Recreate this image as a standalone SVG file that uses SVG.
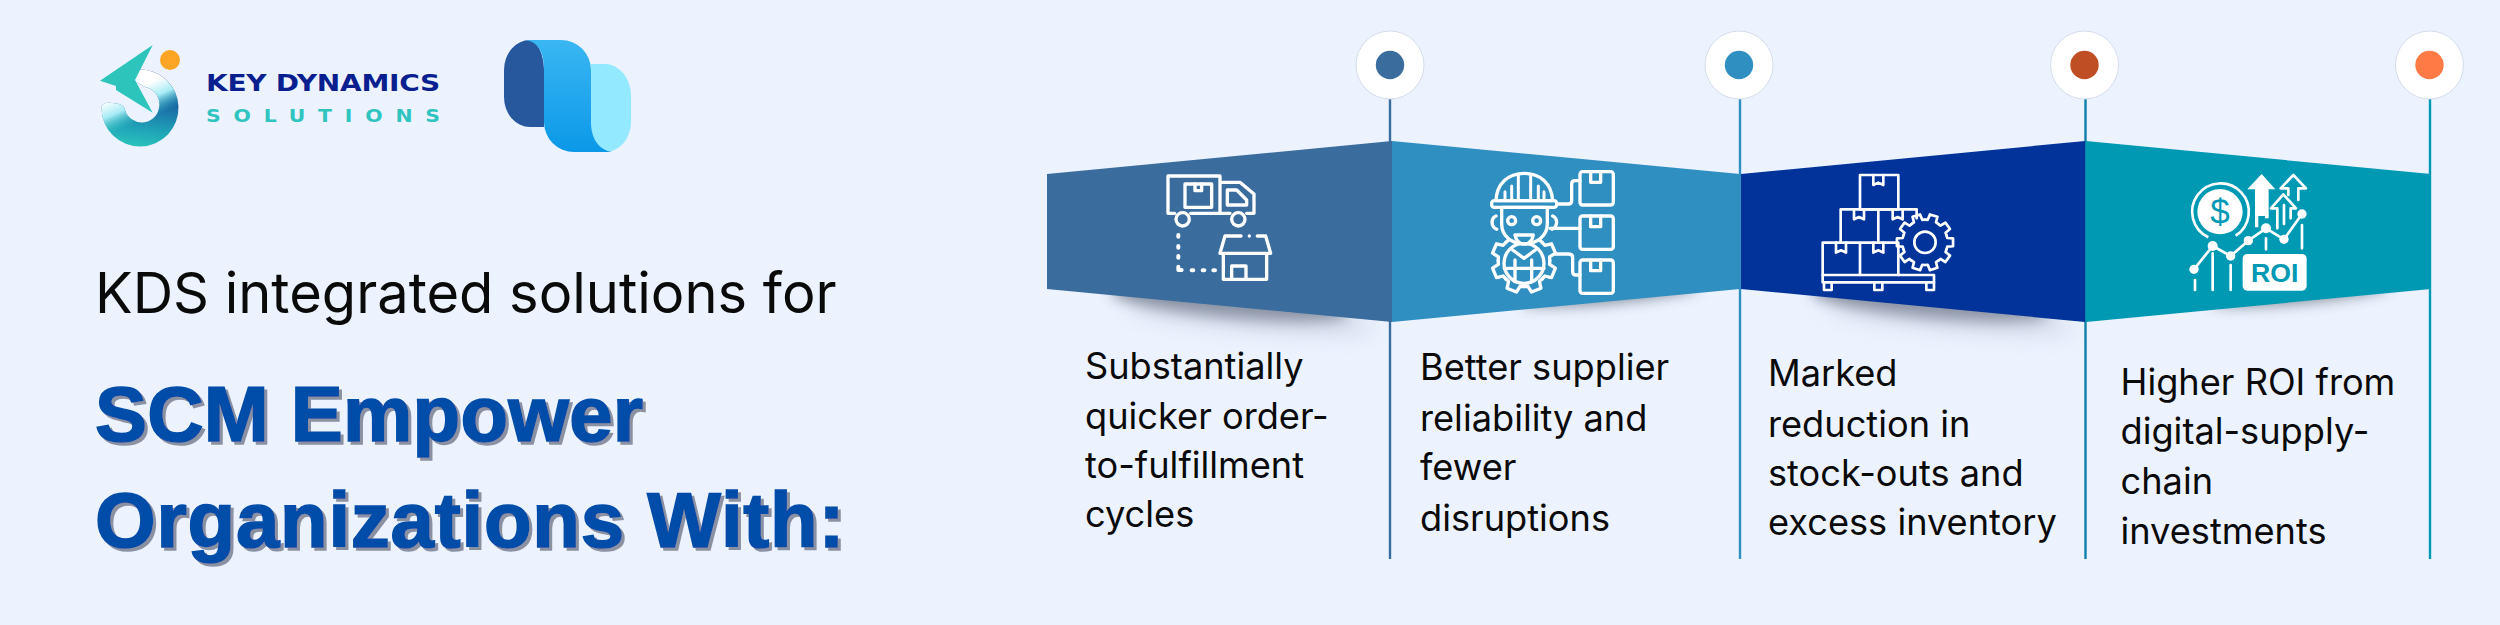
<svg xmlns="http://www.w3.org/2000/svg" xmlns:xlink="http://www.w3.org/1999/xlink" width="2500" height="625" viewBox="0 0 2500 625">
<style>
.body{font-family:"Inter","Liberation Sans",sans-serif;font-size:36.2px;fill:#0a0a0a}
.ring{fill:#fff;stroke:#d5dcec;stroke-width:1}
.ln{stroke-width:2.4;fill:none}
.ic{fill:none;stroke:#fff;stroke-linecap:round;stroke-linejoin:round}
.title{font-family:"Liberation Sans",Arial,sans-serif;font-weight:700;font-size:78px;fill:#034da9;stroke:#034da9;stroke-width:1.6;filter:url(#ts)}
</style>
<defs>
<filter id="ts" x="-5%" y="-20%" width="110%" height="140%"><feDropShadow dx="3" dy="3" stdDeviation="0.4" flood-color="#8a91a3"/></filter>
<filter id="b1" x="-30%" y="-150%" width="160%" height="400%"><feGaussianBlur stdDeviation="7"/></filter>
<filter id="b2" x="-30%" y="-150%" width="160%" height="400%"><feGaussianBlur stdDeviation="11"/></filter>
<linearGradient id="rg" gradientUnits="userSpaceOnUse" x1="135" y1="70" x2="125" y2="147"><stop offset="0" stop-color="#0a2296"/><stop offset=".45" stop-color="#1a72a8"/><stop offset=".75" stop-color="#1fa4b8"/><stop offset="1" stop-color="#2cc6bc"/></linearGradient>
<linearGradient id="wg" gradientUnits="userSpaceOnUse" x1="105" y1="102" x2="118" y2="132"><stop offset="0" stop-color="#fff"/><stop offset=".45" stop-color="#a8ecf6"/><stop offset="1" stop-color="#2cc6bc" stop-opacity="0"/></linearGradient>
<linearGradient id="mg" x1="0" y1="0" x2="0" y2="1"><stop offset="0" stop-color="#3ab7f3"/><stop offset="1" stop-color="#0b98e8"/></linearGradient>
<path id="t8" d="M-26,-62.8 L-16.5,-66 L-13.3,-84 L13.3,-84 L16.5,-66 L26,-62.8"/>
<path id="t10" d="M-21,-64.7 L-13,-66.8 L-11.8,-84.2 L11.8,-84.2 L13,-66.8 L21,-64.7"/>
</defs>
<rect width="2500" height="625" fill="#ecf3ff"/>

<g id="logo-kds">
<path d="M133,80 L138,69.5 A38.5,38.5 0 1 1 101.5,108 C101,104 106,102 112,103 C120,103 125,106 125,110 A17.5,17.5 0 0 0 159,108 A17.5,17.5 0 0 0 145,87 Z" fill="url(#rg)"/>
<path d="M133,80 L138,69.5 A38.5,38.5 0 1 1 101.5,108 C101,104 106,102 112,103 C120,103 125,106 125,110 A17.5,17.5 0 0 0 159,108 A17.5,17.5 0 0 0 145,87 Z" fill="url(#wg)"/>
<polygon points="152.7,45 100,80.7 116,86 116,90 152.7,112.7 135,80" fill="#2dc4bc"/>
<circle cx="170" cy="60" r="10" fill="#ffa526"/>
<text transform="translate(206,90.5) scale(1.22,1)" font-family="'DejaVu Sans',sans-serif" font-weight="700" font-size="23" fill="#0a1f8f" textLength="192" lengthAdjust="spacing">KEY DYNAMICS</text>
<text transform="translate(206,121.5) scale(1.2,1)" font-family="'DejaVu Sans',sans-serif" font-weight="700" font-size="17" fill="#2fc4bf" textLength="195" lengthAdjust="spacing">SOLUTIONS</text>
</g>

<g id="logo-mark">
<path d="M591,64 H605 A26,32 0 0 1 631,96 V122 A26,30 0 0 1 605,152 H590 L591,64 Z" fill="#93e9ff"/>
<path d="M504,70 A26,30 0 0 1 530,40 C540,42 544,60 544,70 L544,127 H530 A26,30 0 0 1 504,97 Z" fill="#27589e"/>
<path d="M526,40 H561 A30,30 0 0 1 591,70 V122 C591,140 600,150 612,152 H574 A30,30 0 0 1 544,122 V70 C544,52 538,42 526,40 Z" fill="url(#mg)"/>
</g>

<g id="headline">
<text x="95" y="313" font-family="Inter,'Liberation Sans',sans-serif" font-size="56" fill="#0a0a0a">KDS integrated solutions for</text>
<text class="title" x="95" y="441" letter-spacing=".2">SCM Empower</text>
<text class="title" x="95" y="547" letter-spacing=".75">Organizations With:</text>
</g>

<g id="connectors">
<line class="ln" x1="1390" y1="99" x2="1390" y2="559" stroke="#3a6d9e"/>
<line class="ln" x1="1740" y1="99" x2="1740" y2="559" stroke="#308fc1"/>
<line class="ln" x1="2085.5" y1="99" x2="2085.5" y2="559" stroke="#0f7fa9"/>
<line class="ln" x1="2430" y1="99" x2="2430" y2="559" stroke="#0099b4"/>
</g>

<g id="shadows">
<ellipse cx="1230" cy="303" rx="120" ry="14" transform="rotate(5.4 1230 303)" fill="#3d4556" opacity=".62" filter="url(#b1)"/>
<ellipse cx="1250" cy="316" rx="125" ry="12" transform="rotate(5.4 1250 316)" fill="#a4afc4" opacity=".45" filter="url(#b2)"/>
<ellipse cx="1610" cy="294" rx="90" ry="9" transform="rotate(-5.4 1610 294)" fill="#3d4556" opacity=".6" filter="url(#b1)"/>
<ellipse cx="1930" cy="303" rx="120" ry="14" transform="rotate(5.4 1930 303)" fill="#3d4556" opacity=".62" filter="url(#b1)"/>
<ellipse cx="1950" cy="316" rx="125" ry="12" transform="rotate(5.4 1950 316)" fill="#a4afc4" opacity=".45" filter="url(#b2)"/>
<ellipse cx="2300" cy="294" rx="90" ry="9" transform="rotate(-5.4 2300 294)" fill="#3d4556" opacity=".6" filter="url(#b1)"/>
</g>

<g id="step-1">
<polygon points="1047,174 1392,141 1392,322 1047,289" fill="#3a6d9e"/>
<circle class="ring" cx="1390" cy="65" r="34"/>
<circle cx="1390" cy="65" r="14.2" fill="#3a6d9e"/>
<g class="ic" transform="translate(1140,150) scale(.3333)" stroke-width="10">
<path d="M104,190H84V78H240V190M152,190H270M240,97H300L342,132V190H320"/>
<circle cx="128" cy="208" r="20"/><circle cx="295" cy="208" r="20"/>
<rect x="135" y="102" width="80" height="70"/><path d="M165,102V122H185V102"/>
<path d="M262,120H290L320,150V165H262Z"/>
<path d="M115,255V260M115,288V293M115,318V323M115,350V360H125M155,361H160M188,361H193M220,361H225" stroke-width="12"/>
<path d="M250,312V388H380V312M275,388V348H318V388M303,258H255L240,310H392L377,258H352M328,258V258"/>
</g>
<text class="body" x="1085" y="379">Substantially</text>
<text class="body" x="1085" y="428.5">quicker order-</text>
<text class="body" x="1085" y="478">to-fulfillment</text>
<text class="body" x="1085" y="527">cycles</text>
</g>

<g id="step-2">
<polygon points="1392,141 1740,174 1740,289 1392,322" fill="#308fc1"/>
<circle class="ring" cx="1739" cy="65" r="34"/>
<circle cx="1739" cy="65" r="14.2" fill="#308fc1"/>
<g class="ic" transform="translate(1470,150) scale(.3333)" stroke-width="10">
<g transform="translate(162,332) scale(1.14)" stroke-width="8.8">
<use xlink:href="#t8" transform="rotate(22.5)"/><use xlink:href="#t8" transform="rotate(67.5)"/><use xlink:href="#t8" transform="rotate(112.5)"/><use xlink:href="#t8" transform="rotate(157.5)"/><use xlink:href="#t8" transform="rotate(202.5)"/><use xlink:href="#t8" transform="rotate(247.5)"/><use xlink:href="#t8" transform="rotate(292.5)"/><use xlink:href="#t8" transform="rotate(337.5)"/>
</g>
<circle cx="162" cy="340" r="60"/>
<path d="M135,330V395M185,330V395M103,355H222M128,300L162,325L196,300"/>
<path d="M78,198C62,205 62,230 80,238M248,198C264,205 264,230 246,238"/>
<path d="M95,172V222C95,258 125,282 163,282C200,282 232,258 232,222V172Z" fill="#308fc1"/>
<path d="M78,152C80,100 115,70 163,70C210,70 245,100 248,152Z" fill="#308fc1"/>
<rect x="65" y="152" width="195" height="20" rx="8"/>
<path d="M145,75V150M182,75V150M125,108V150M205,108V150M105,125V150M222,125V150" stroke-width="9"/>
<circle cx="125" cy="212" r="12"/><circle cx="200" cy="212" r="12"/>
<path d="M135,255H190Q185,282 163,282Q140,282 135,255Z"/>
<path d="M262,162H295Q305,162 305,152V102Q305,92 315,92H330M240,235H330M255,312H295Q308,312 308,322V365Q308,375 318,375H330"/>
<rect x="330" y="65" width="100" height="100" rx="8"/><rect x="330" y="198" width="100" height="100" rx="8"/><rect x="330" y="330" width="100" height="100" rx="8"/>
<path d="M362,65V97H392V65M362,198V230H392V198M362,330V362H392V330"/>
</g>
<text class="body" x="1420" y="380">Better supplier</text>
<text class="body" x="1420" y="430.5">reliability and</text>
<text class="body" x="1420" y="479.5">fewer</text>
<text class="body" x="1420" y="530.5">disruptions</text>
</g>

<g id="step-3">
<polygon points="1741,174 2085,141 2085,322 1741,289" fill="#01339a"/>
<circle class="ring" cx="2084.5" cy="65" r="34"/>
<circle cx="2084.5" cy="65" r="14.2" fill="#c04e24"/>
<g class="ic" transform="translate(1810,150) scale(.3333)" stroke-width="8">
<rect x="150" y="75" width="115" height="103"/>
<path d="M92,275V178H320V205M205,178V275M38,375V278H265M150,278V375M265,278V375"/>
<path d="M190,75V105L205,98L220,105V75M132,178V208L147,201L162,208V178M248,178V208L263,201L278,208V178M78,278V308L93,301L108,308V278M190,278V308L205,301L220,308V278"/>
<rect x="38" y="375" width="334" height="22"/>
<path d="M42,397V420H65V397M193,397V420H217V397M349,397V420H372V397"/>
<circle cx="345" cy="277" r="70" fill="#01339a" stroke="none"/>
<g transform="translate(345,277)">
<use xlink:href="#t10" transform="rotate(18)"/><use xlink:href="#t10" transform="rotate(54)"/><use xlink:href="#t10" transform="rotate(90)"/><use xlink:href="#t10" transform="rotate(126)"/><use xlink:href="#t10" transform="rotate(162)"/><use xlink:href="#t10" transform="rotate(198)"/><use xlink:href="#t10" transform="rotate(234)"/><use xlink:href="#t10" transform="rotate(270)"/><use xlink:href="#t10" transform="rotate(306)"/><use xlink:href="#t10" transform="rotate(342)"/>
</g>
<circle cx="345" cy="277" r="32"/>
</g>
<text class="body" x="1768" y="386">Marked</text>
<text class="body" x="1768" y="436.5">reduction in</text>
<text class="body" x="1768" y="485.5">stock-outs and</text>
<text class="body" x="1768" y="534.5">excess inventory</text>
</g>

<g id="step-4">
<polygon points="2086,141 2431,174 2431,289 2086,322" fill="#0099b4"/>
<circle class="ring" cx="2429.5" cy="65" r="34"/>
<circle cx="2429.5" cy="65" r="14.2" fill="#ff7a45"/>
<g transform="translate(2170,150) scale(.3333)">
<circle cx="150" cy="185" r="68" fill="#fff"/>
<path d="M115,262A85,85 0 1 1 197,257" class="ic" stroke-width="8" style="stroke-linecap:butt"/>
<text x="150" y="222" text-anchor="middle" font-family="'Liberation Sans',sans-serif" font-size="105" fill="#0099b4">$</text>
<polygon points="275,72 316,118 296,118 296,205 285,205 285,198 265,198 265,232 255,232 255,118 232,118" fill="#fff"/>
<path class="ic" stroke-width="8" d="M385,150V115H408L370,75L332,115H355V135M362,205V175H378L340,133L303,175H322V235M342,165V222"/>
<path class="ic" stroke-width="8" d="M72,358L128,288L182,318L235,272L288,235L342,268L396,192M75,390V420M128,310V420M182,345V420M288,265V298M396,225V295"/>
<g fill="#fff"><circle cx="72" cy="358" r="14"/><circle cx="128" cy="288" r="15"/><circle cx="182" cy="318" r="14"/><circle cx="235" cy="272" r="14"/><circle cx="288" cy="235" r="15"/><circle cx="342" cy="268" r="14"/><circle cx="396" cy="192" r="14"/></g>
<rect x="218" y="312" width="192" height="110" rx="14" fill="#fff"/>
<text x="314" y="395" text-anchor="middle" font-family="'Liberation Sans',sans-serif" font-weight="700" font-size="80" fill="#0099b4">ROI</text>
</g>
<text class="body" x="2120.5" y="394.5">Higher ROI from</text>
<text class="body" x="2120.5" y="443.5">digital-supply-</text>
<text class="body" x="2120.5" y="493.5">chain</text>
<text class="body" x="2120.5" y="543.5">investments</text>
</g>
</svg>
